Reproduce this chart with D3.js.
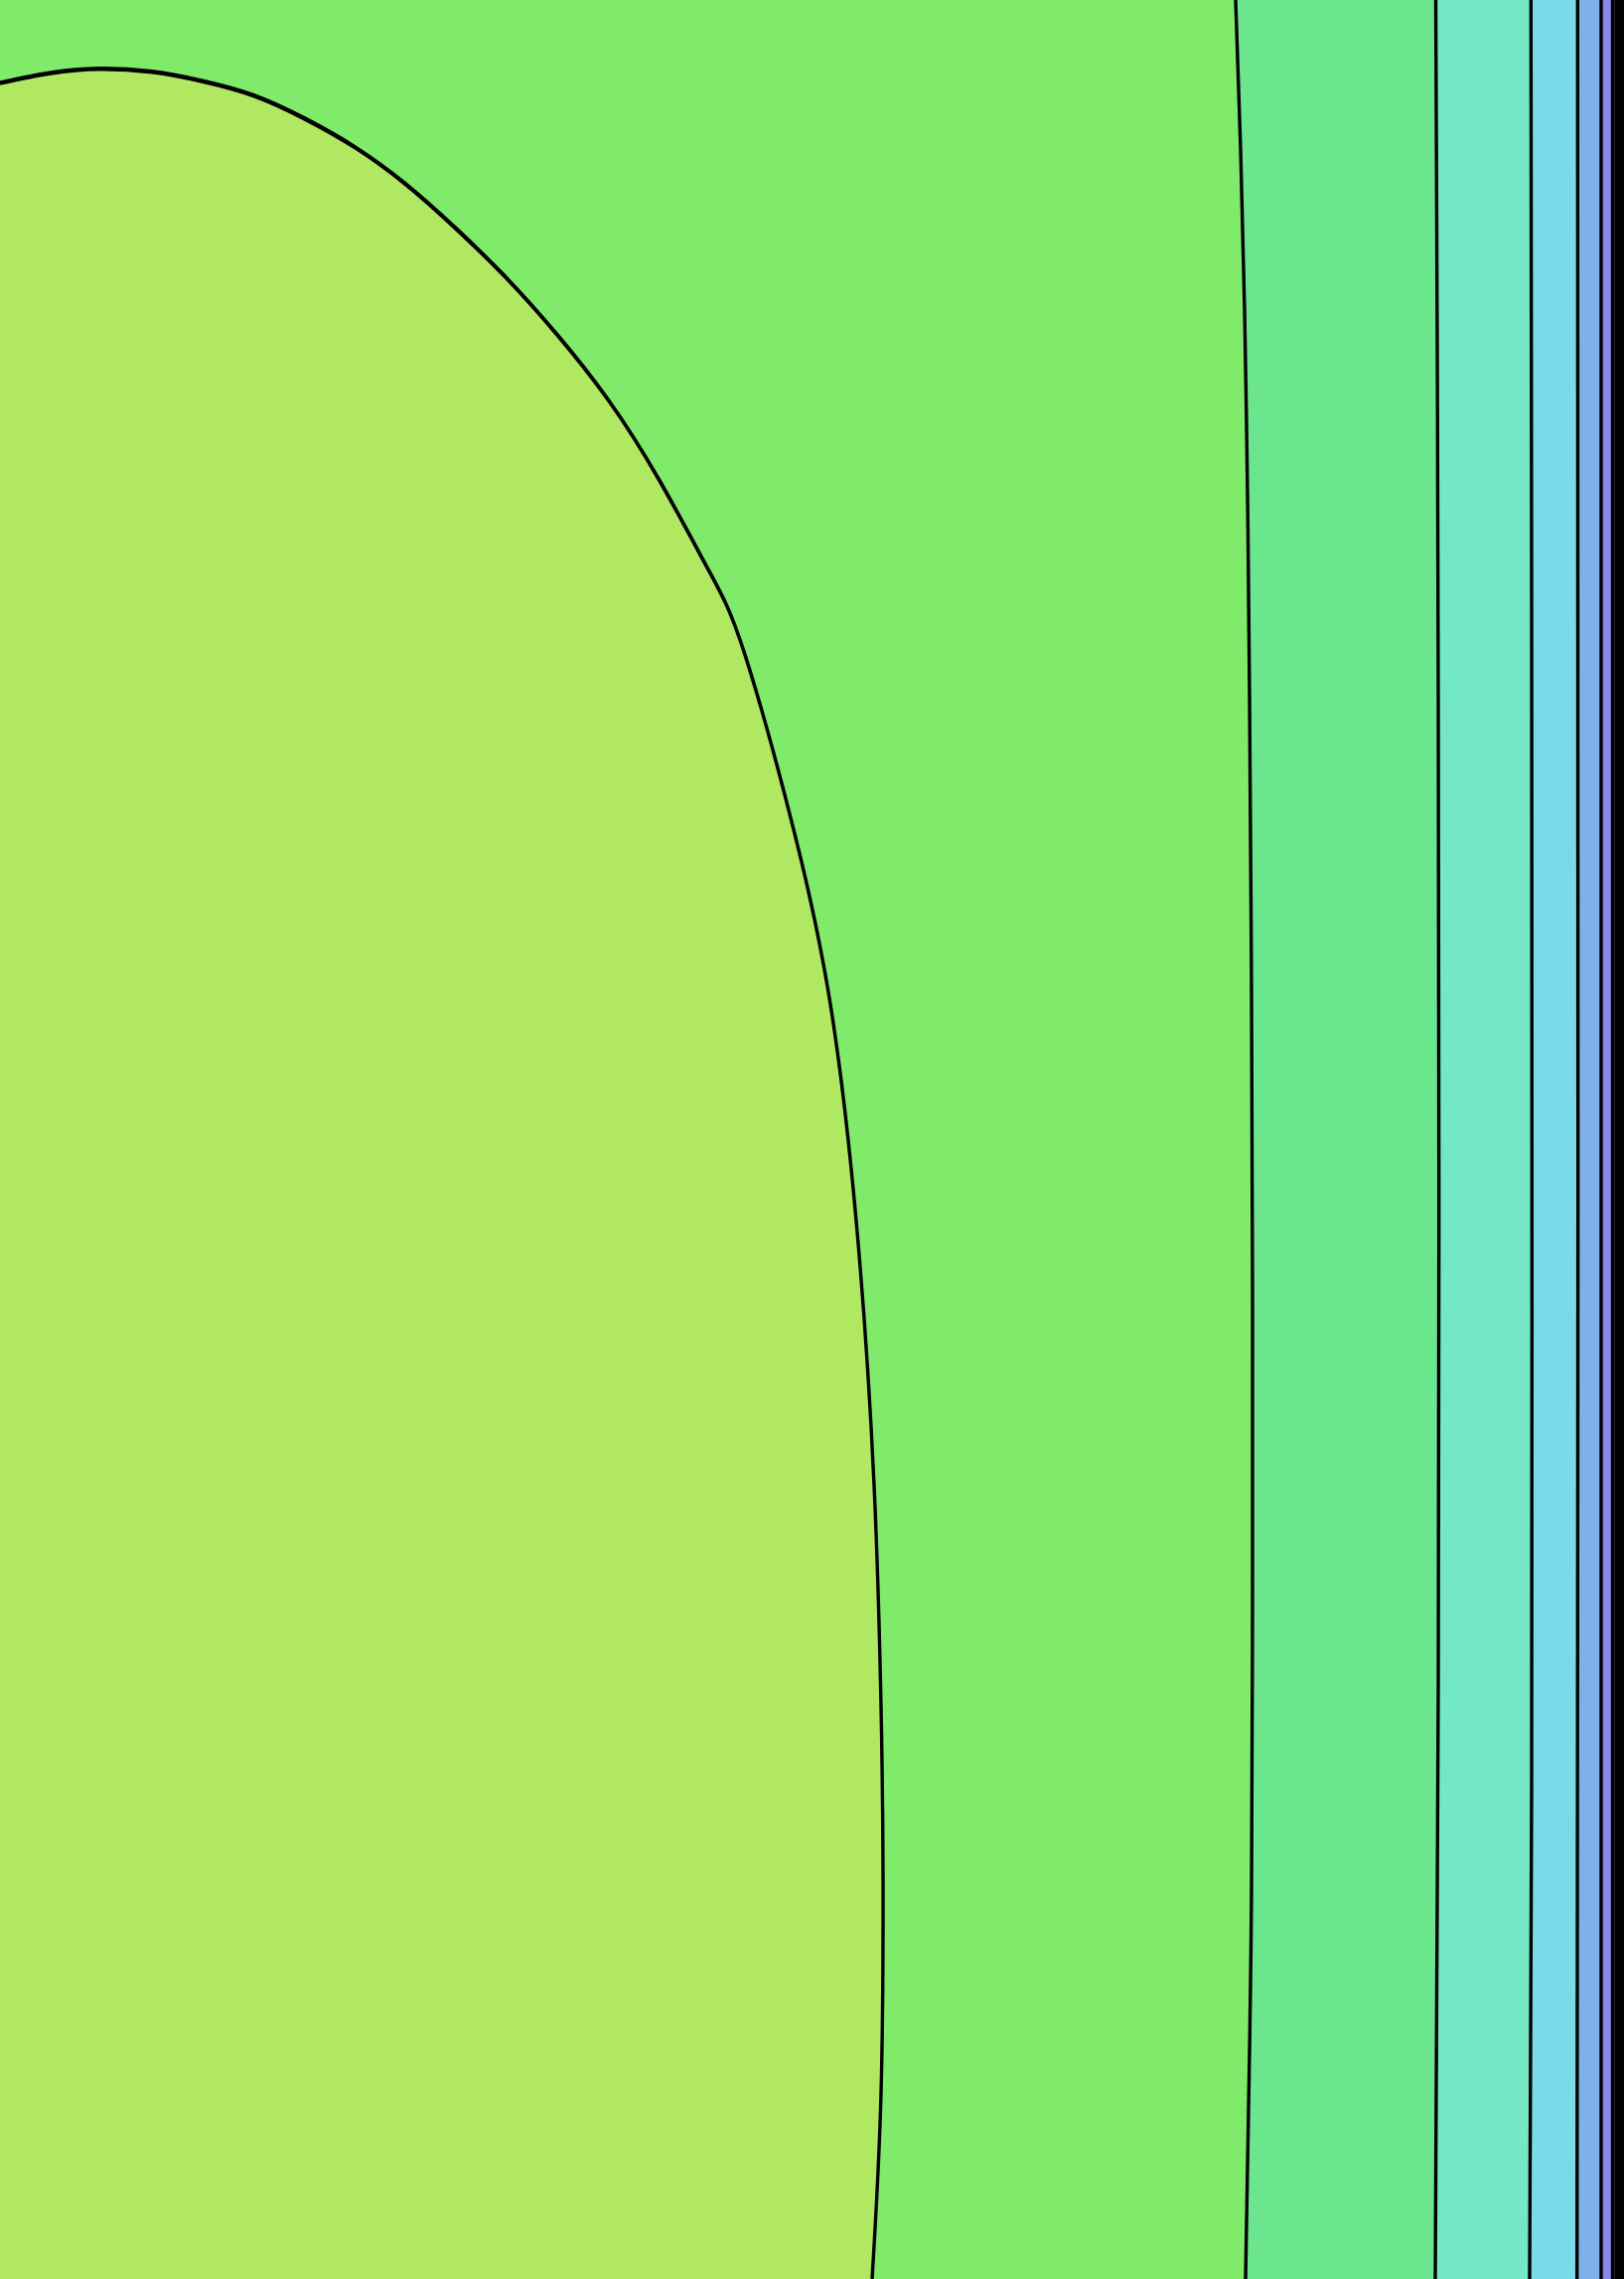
<!DOCTYPE html>
<html>
<head>
<meta charset="utf-8">
<script src="https://cdn.jsdelivr.net/npm/d3@7"></script>
<style>
    html, body { margin: 0; padding: 0; background: #fff; }
    #chart svg { display: block; }
    .contour { fill: none; stroke: #000; stroke-linejoin: round; }
</style>
</head>
<body>
<div id="chart"></div>
<script>
// contour lines, [x, y] in plot units (0..1635, 0..2294)
var innerContour = [[0, 83.5], [51, 73.5], [99.5, 69.2], [153, 72.3], [204, 81.7], [255, 96],
    [306, 119], [357, 148], [408, 185], [459, 230], [510, 280], [561, 337], [612, 402],
    [663, 482], [714, 575], [750, 659], [800, 839], [837, 1017], [863, 1240], [880, 1495],
    [887, 1718], [889, 1885], [887, 2107], [878, 2294]];
var contour2 = [[1244, 0], [1249, 150], [1253, 312], [1256, 500], [1258, 700], [1260, 1000],
    [1261, 1300], [1261, 1600], [1260, 1900], [1257.5, 2094], [1254, 2294]];
var contour3 = [[1445.5, 0], [1447, 350], [1448, 700], [1448.7, 1200], [1448, 1700], [1446.5, 2000], [1445, 2294]];
var contour4 = [[1541.3, 0], [1542, 600], [1542.3, 1200], [1542, 1800], [1540, 2294]];
var contour5 = [[1588.3, 0], [1588.7, 1200], [1587.7, 2294]];
var contour6 = [[1612, 0], [1612, 1200], [1612, 2294]];
var contour7 = [[1623.5, 0], [1623.5, 1200], [1623.5, 2294]];
var contour8 = [[1627, 0], [1627, 1200], [1627, 2294]];
var contour9 = [[1629.5, 0], [1629.5, 1200], [1629.5, 2294]];
var contour10 = [[1632, 0], [1632, 1200], [1632, 2294]];
var contour11 = [[1634.5, 0], [1634.5, 1200], [1634.5, 2294]];

// bands to the right of each outer contour, in order
var outerContours = [contour2, contour3, contour4, contour5, contour6, contour7,
    contour8, contour9, contour10, contour11];

// band colours: inside the closed contour, then outwards
var innerColor = '#b0e862';
var bandColors = ['#80ea6a', '#6ce68e', '#74e8c4', '#7adae8', '#80b0e8', '#8a88e8',
    '#a686e0', '#b486d8', '#c286d0', '#cc86c8', '#d486c0'];

var width = 1635, height = 2294;
var STRETCH = 1.35; // plot is drawn stretched vertically, horizontal strokes come out thicker

var x = d3.scaleLinear().domain([0, 1635]).range([0, width]);
var y = d3.scaleLinear().domain([0, 2294]).range([0, height / STRETCH]);

var svg = d3.select("#chart")
    .append("svg")
        .attr("width", width)
        .attr("height", height)
    .append("g")
        .attr("transform", "scale(1," + STRETCH + ")");

// base band
svg.append("rect")
    .attr("x", x(0))
    .attr("y", y(0))
    .attr("width", x(1635) - x(0))
    .attr("height", y(2294) - y(0))
    .attr("fill", bandColors[0]);

var line = d3.line()
    .curve(d3.curveNatural)
    .x(function(d) { return x(d[0]); })
    .y(function(d) { return y(d[1]); });

// closed region at the left
svg.append("path")
    .attr("fill", innerColor)
    .attr("d", line(innerContour) +
        "L" + x(0) + "," + y(2294) +
        "L" + x(0) + "," + y(innerContour[0][1]) + "Z");

// outer bands
var band = d3.area()
    .curve(d3.curveNatural)
    .y(function(d) { return y(d[1]); })
    .x0(function(d) { return x(d[0]); })
    .x1(x(1635));

outerContours.forEach(function(c, i) {
    svg.append("path")
        .attr("fill", bandColors[i + 1])
        .attr("d", band(c));
});

// contour strokes
[innerContour].concat(outerContours).forEach(function(c) {
    svg.append("path")
        .attr("class", "contour")
        .attr("stroke-width", 3.4)
        .attr("d", line(c));
});
</script>
</body>
</html>
